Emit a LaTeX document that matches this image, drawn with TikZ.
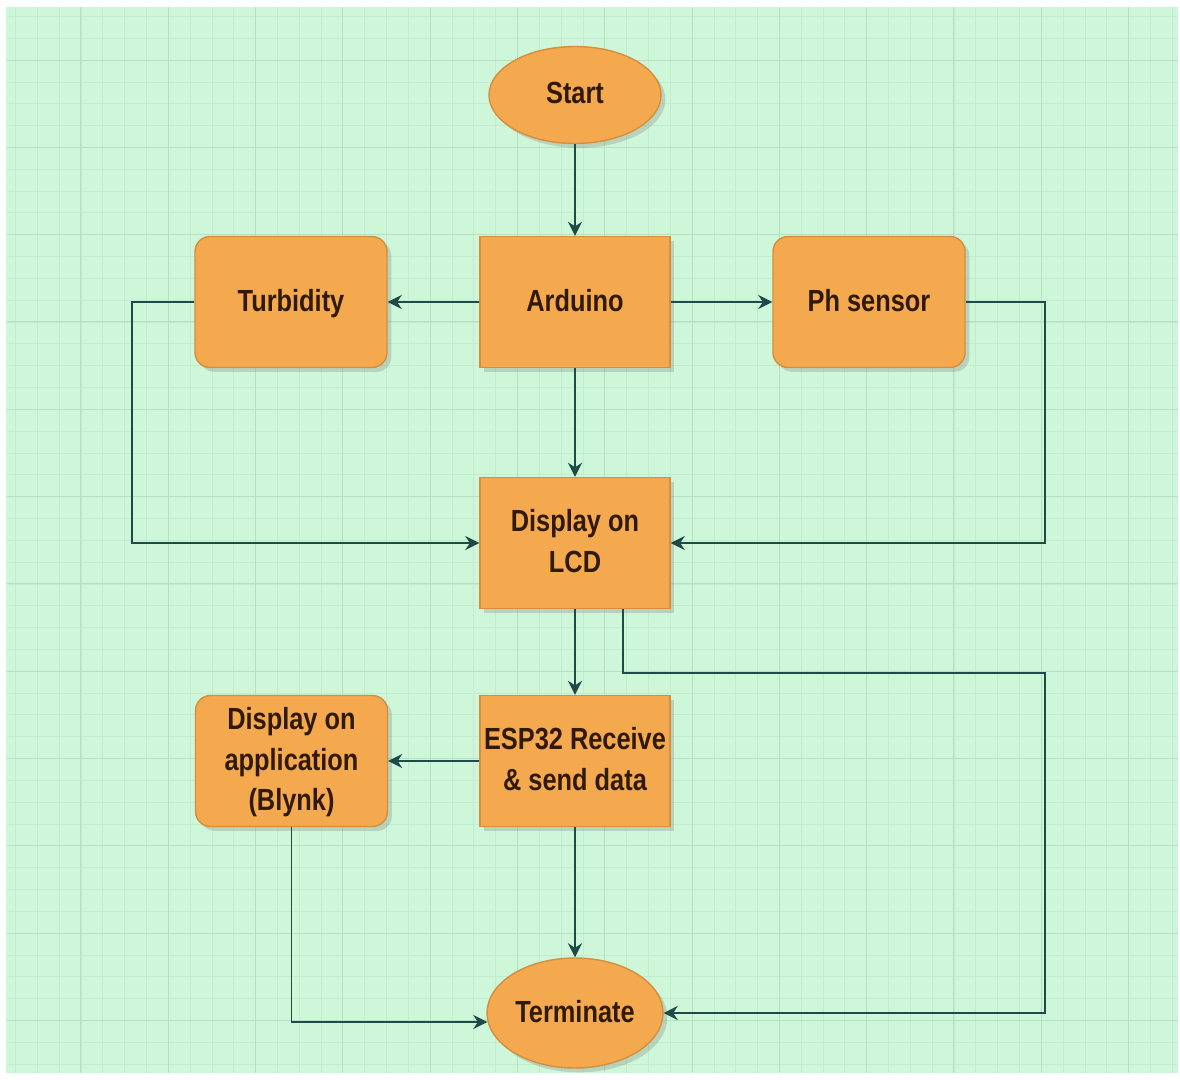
\documentclass[tikz,border=0pt]{standalone}
\usepackage{fontspec}
\setmainfont{Liberation Sans}[FakeStretch=0.83]
\usetikzlibrary{arrows.meta,shapes.geometric,shadows}
\definecolor{bgc}{HTML}{CEF7D9}
\definecolor{minorc}{HTML}{C2ECCE}
\definecolor{majorc}{HTML}{B6E0C2}
\definecolor{boxfill}{HTML}{F4A94F}
\definecolor{boxdraw}{HTML}{D48E3E}
\definecolor{txtc}{HTML}{301A05}
\definecolor{linec}{HTML}{1E4A47}
\tikzset{
  base/.style={fill=boxfill, draw=boxdraw, line width=0.8pt, text=txtc,
    font=\fontsize{17.4}{23}\selectfont\bfseries, align=center, inner sep=0pt,
    text depth=0.22em,
    drop shadow={opacity=0.3, shadow xshift=2.5pt, shadow yshift=-2.5pt}},
  procbox/.style={base, rectangle, minimum width=3.8cm, minimum height=2.62cm},
  roundbox/.style={base, rectangle, rounded corners=0.3cm, minimum width=3.84cm, minimum height=2.62cm},
  termbox/.style={base, ellipse},
  conn/.style={draw=linec, line width=1.1pt, -{Stealth[length=8pt,width=8pt]}},
  minorline/.style={draw=minorc, line width=0.35pt},
  majorline/.style={draw=majorc, line width=0.55pt}
}
\begin{document}
\begin{tikzpicture}[x=0.02cm,y=-0.02cm]
\useasboundingbox (0,0) rectangle (1180,1079);
\fill[white] (0,0) rectangle (1180,1079);
\fill[bgc] (6,7) rectangle (1178,1073);
\begin{scope}
\clip (6,7) rectangle (1178,1073);
\foreach \i in {0,...,54} {
  \draw[minorline] (15.4+\i*21.825,7) -- (15.4+\i*21.825,1073);
}
\foreach \i in {0,...,49} {
  \draw[minorline] (7,16.35+\i*21.825) -- (1178,16.35+\i*21.825);
}
\foreach \i in {0,...,13} {
  \draw[majorline] (80.9+\i*87.3,7) -- (80.9+\i*87.3,1073);
}
\foreach \i in {0,...,12} {
  \draw[majorline] (7,60+\i*87.3) -- (1178,60+\i*87.3);
}
\end{scope}

\node[termbox, minimum width=3.44cm, minimum height=1.94cm] (start) at (575,95) {Start};
\node[procbox] (ard) at (575,302) {Arduino};
\node[roundbox] (turb) at (291,302) {Turbidity};
\node[roundbox] (ph) at (869,302) {Ph sensor};
\node[procbox] (lcd) at (575,543) {Display on\\LCD};
\node[procbox] (esp) at (575,761) {ESP32 Receive\\\& send data};
\node[roundbox] (app) at (291.5,761) {Display on\\application\\(Blynk)};
\node[termbox, minimum width=3.52cm, minimum height=2.2cm] (term) at (575,1013) {Terminate};

\coordinate (tl) at (132,302);
\coordinate (pr) at (1045,302);
\coordinate (rc) at (1045,673);

\draw[conn] (start) -- (ard);
\draw[conn] (ard) -- (turb);
\draw[conn] (ard) -- (ph);
\draw[conn] (ard) -- (lcd);
\draw[conn] (turb.west) -- (tl) |- (lcd.west);
\draw[conn] (ph.east) -- (pr) |- (lcd.east);
\draw[conn] (lcd) -- (esp);
\draw[conn] ([xshift=0.96cm]lcd.south) |- (rc) |- (term.east);
\draw[conn] (esp) -- (app);
\draw[conn] (esp) -- (term);
\draw[conn] (app.south) |- ([xshift=0.02cm,yshift=-0.18cm]term.west);
\end{tikzpicture}
\end{document}
